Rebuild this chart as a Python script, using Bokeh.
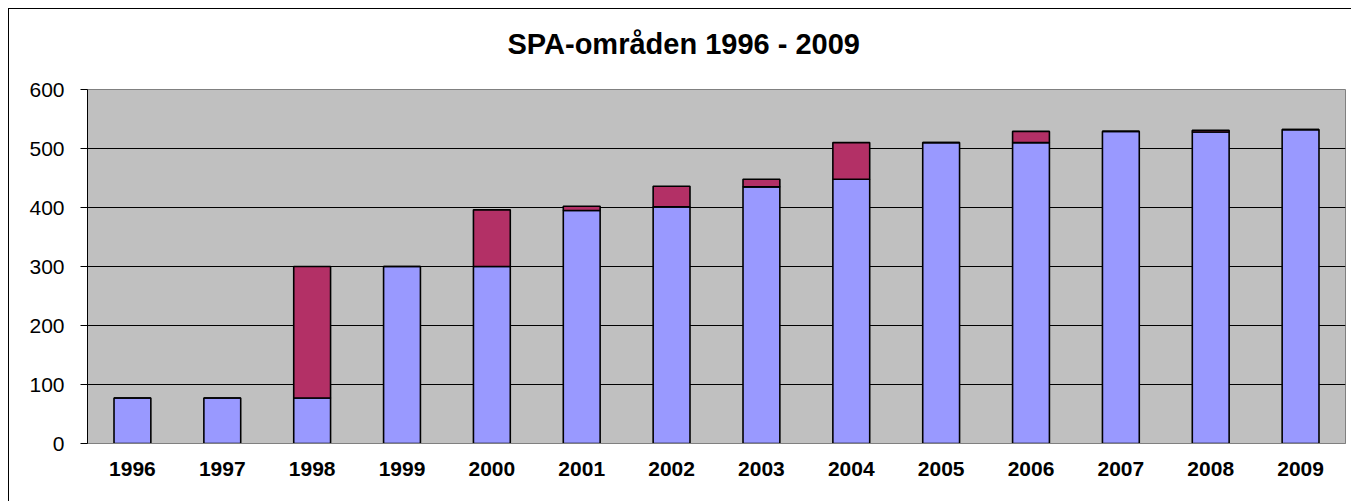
from bokeh.plotting import figure
from bokeh.models import FactorRange, Range1d, SingleIntervalTicker, Title
from bokeh.embed import file_html
from bokeh.resources import INLINE

years = ["1996", "1997", "1998", "1999", "2000", "2001", "2002",
         "2003", "2004", "2005", "2006", "2007", "2008", "2009"]
base = [77, 77, 77, 300, 300, 395, 401, 435, 448, 510, 510, 529, 528, 532]
added = [0, 0, 223, 0, 96, 7, 35, 13, 62, 0, 19, 0, 3, 0]
title_text = "SPA-områden 1996 - 2009"

FONT = "Liberation Sans"

p = figure(x_range=FactorRange(*years), y_range=Range1d(0, 600),
           width=1343, height=493, output_backend="svg",
           toolbar_location=None, tools="")
p.title = None
# spacer between plot area and title (closest to the frame)
p.add_layout(Title(text=" ", text_font_size="1px", standoff=22,
                   text_color="white"), "above")
p.add_layout(Title(text=title_text, align="left", offset=420,
                   text_font=FONT, text_font_size="29px",
                   text_font_style="bold", text_color="black",
                   standoff=10), "above")

p.min_border_left = 78
p.min_border_right = 7
p.min_border_top = 80
p.min_border_bottom = 59

p.background_fill_color = "#C0C0C0"
p.border_fill_color = "white"
p.outline_line_color = "#808080"
p.outline_line_width = 1

p.vbar_stack(["base", "added"], x="years", width=0.41,
             color=["#9999FF", "#B33066"],
             line_color="black", line_width=1.6,
             source=dict(years=years, base=base, added=added))

# grid
p.xgrid.grid_line_color = None
p.ygrid.grid_line_color = "#000000"
p.ygrid.grid_line_width = 1
p.ygrid.ticker = SingleIntervalTicker(interval=100)

# y axis
p.yaxis.ticker = SingleIntervalTicker(interval=100)
p.yaxis.axis_line_color = "black"
p.yaxis.major_tick_line_color = "black"
p.yaxis.major_tick_out = 7
p.yaxis.major_tick_in = 0
p.yaxis.minor_tick_line_color = None
p.yaxis.major_label_text_font = FONT
p.yaxis.major_label_text_font_size = "21px"
p.yaxis.major_label_text_color = "black"
p.yaxis.major_label_standoff = 16

# x axis
p.xaxis.axis_line_color = "#808080"
p.xaxis.major_tick_line_color = None
p.xaxis.minor_tick_line_color = None
p.xaxis.major_label_text_font = FONT
p.xaxis.major_label_text_font_size = "21px"
p.xaxis.major_label_text_font_style = "bold"
p.xaxis.major_label_text_color = "black"
p.xaxis.major_label_standoff = 12

p.styles = {"margin-left": "8px", "margin-top": "8px",
            "border-left": "1px solid black", "border-top": "1px solid black"}

open("out.html", "w").write(file_html(p, INLINE))
